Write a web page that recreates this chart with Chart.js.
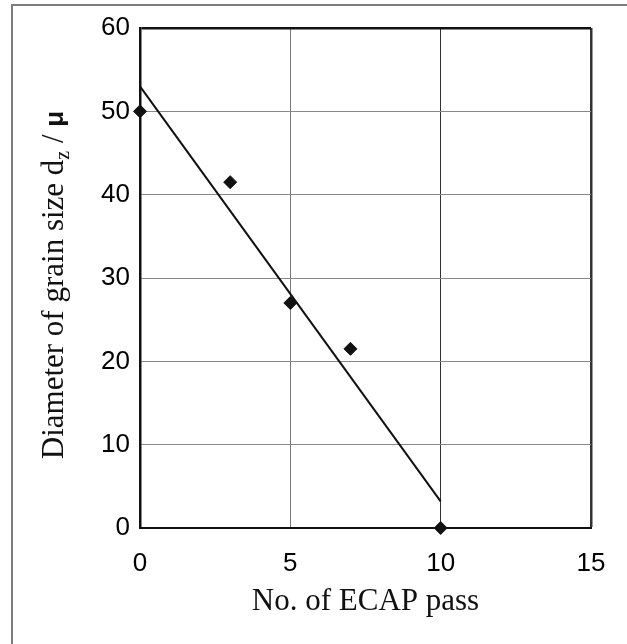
<!DOCTYPE html>
<html>
<head>
<meta charset="utf-8">
<script src="https://cdn.jsdelivr.net/npm/chart.js@4"></script>
<style>
  html, body { margin: 0; padding: 0; background: #fff; }
  #wrap { position: relative; width: 627px; height: 644px; }
  #frame { position: absolute; left: 11px; top: 4px; right: 0; bottom: 0;
           border-left: 2px solid #7c7c7c; border-top: 2px solid #7c7c7c; }
</style>
</head>
<body>
<div id="wrap">
  <div id="frame"></div>
  <canvas id="grainChart"></canvas>
</div>
<script>
// grain size vs number of ECAP passes
const passes = [0, 3, 5, 7, 10];
const grainSize = [50, 41.5, 27, 21.5, 0];

// fitted straight line (end points)
const fitPasses = [0, 10];
const fitSize = [53, 3.2];

const xTicks = [0, 5, 10, 15];
const yTicks = [0, 10, 20, 30, 40, 50, 60];

const sans = '"Liberation Sans", Arial, sans-serif';
const serif = '"Liberation Serif", "Times New Roman", serif';

// y title with subscript z, drawn rotated
const yTitle = {
    id: 'yTitle',
    afterDraw(chart) {
        const ctx = chart.ctx;
        const parts = [
            { t: 'Diameter of grain size d', f: '31px ' + serif, dy: 0 },
            { t: 'z', f: '20px ' + serif, dy: 6 },
            { t: ' / ', f: '31px ' + serif, dy: 0 },
            { t: 'μ', f: 'bold 26px ' + sans, dy: 0 }
        ];
        ctx.save();
        let total = 0;
        parts.forEach(p => { ctx.font = p.f; p.w = ctx.measureText(p.t).width; total += p.w; });
        const cy = (chart.chartArea.top + chart.chartArea.bottom) / 2 + 7;
        ctx.translate(63, cy);
        ctx.rotate(-Math.PI / 2);
        ctx.fillStyle = '#111';
        ctx.textBaseline = 'alphabetic';
        ctx.textAlign = 'left';
        let x = -total / 2;
        parts.forEach(p => {
            ctx.font = p.f;
            ctx.fillText(p.t, x, p.dy);
            x += p.w;
        });
        ctx.restore();
    }
};

const chart = () => {
    const data = {
        datasets: [{
            label: 'measured',
            data: passes.map((p, i) => ({ x: p, y: grainSize[i] })),
            showLine: false,
            pointStyle: 'rectRot',
            pointRadius: 6.5,
            pointBorderWidth: 1,
            backgroundColor: '#111',
            borderColor: '#111',
            clip: false,
            order: 0
        }, {
            label: 'fit',
            data: fitPasses.map((p, i) => ({ x: p, y: fitSize[i] })),
            showLine: true,
            pointRadius: 0,
            borderColor: '#111',
            borderWidth: 2,
            clip: false,
            order: 1
        }]
    };
    const config = {
        type: 'scatter',
        data: data,
        options: {
            responsive: true,
            maintainAspectRatio: false,
            animation: false,
            layout: { padding: { top: 28, right: 36, left: 0, bottom: 0 } },
            plugins: {
                legend: { display: false },
                tooltip: { enabled: false }
            },
            scales: {
                x: {
                    type: 'linear',
                    min: 0,
                    max: 15,
                    afterFit: (s) => { s.height = 116; },
                    afterBuildTicks: (s) => { s.ticks = xTicks.map(v => ({ value: v })); },
                    border: { display: true, color: '#111', width: 2 },
                    grid: {
                        drawTicks: false,
                        color: (c) => c.tick && c.tick.value === 15 ? '#333' : (c.tick && c.tick.value === 10 ? '#333' : '#777'),
                        lineWidth: (c) => c.tick && c.tick.value === 15 ? 2.5 : 1
                    },
                    ticks: {
                        padding: 20,
                        color: '#000',
                        font: { family: sans, size: 26 }
                    },
                    title: {
                        display: true,
                        text: 'No. of ECAP pass',
                        color: '#111',
                        font: { family: serif, size: 31 },
                        padding: { top: 0, bottom: 24 }
                    }
                },
                y: {
                    type: 'linear',
                    min: 0,
                    max: 60,
                    afterFit: (s) => { s.width = 140; },
                    afterBuildTicks: (s) => { s.ticks = yTicks.map(v => ({ value: v })); },
                    border: { display: true, color: '#111', width: 2.5 },
                    grid: {
                        drawTicks: false,
                        color: (c) => c.tick && c.tick.value === 60 ? '#111' : '#888',
                        lineWidth: (c) => c.tick && c.tick.value === 60 ? 2.5 : 1
                    },
                    ticks: {
                        padding: 10,
                        color: '#000',
                        font: { family: sans, size: 26 }
                    }
                }
            }
        },
        plugins: [yTitle]
    };
    const ctx = document.getElementById('grainChart');
    new Chart(ctx, config);
};

chart();
</script>
</body>
</html>
